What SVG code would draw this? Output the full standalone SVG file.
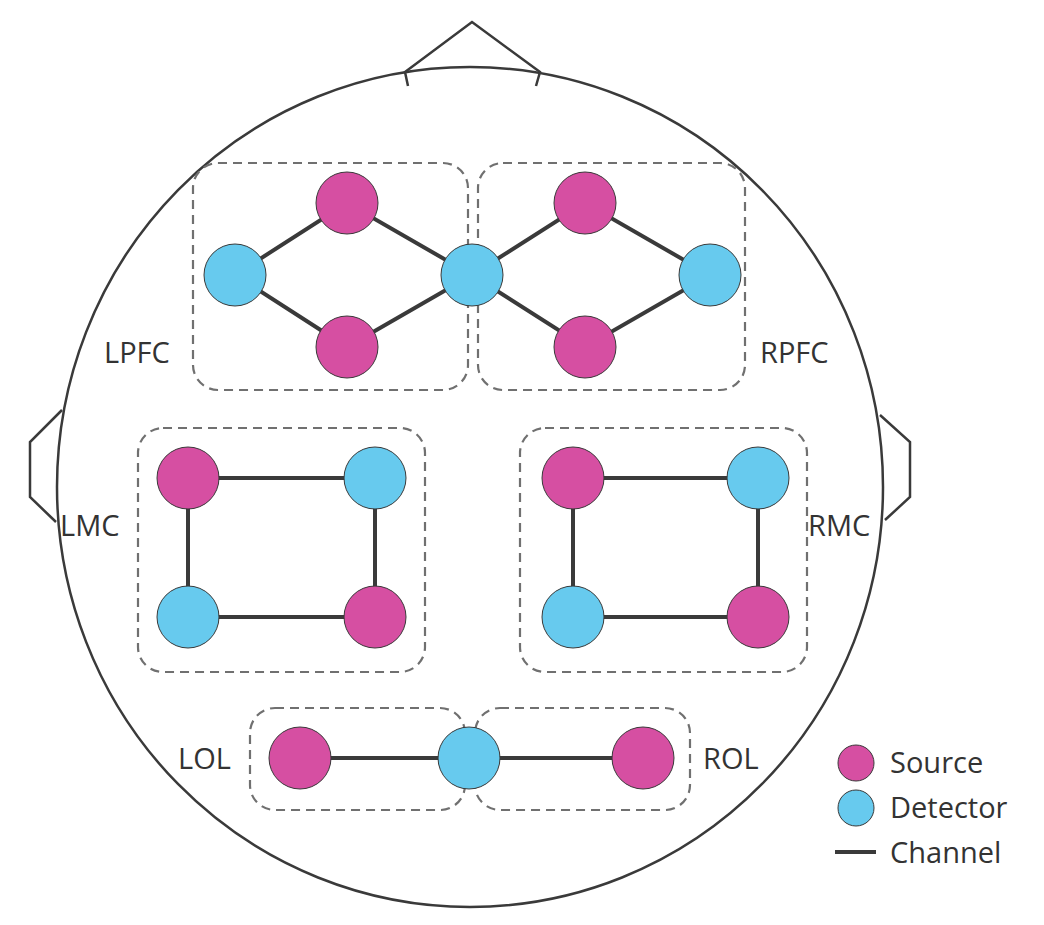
<svg xmlns="http://www.w3.org/2000/svg" width="1044" height="925" viewBox="0 0 1044 925">
<style>
.o{fill:none;stroke:#3a3a3a;stroke-width:2.5}
.b{fill:none;stroke:#707070;stroke-width:2.2;stroke-dasharray:9 6}
.c{stroke:#3a3a3a;stroke-width:4;fill:none}
.s{fill:#D64FA2;stroke:#3a3a3a;stroke-width:1}
.d{fill:#67CAEE;stroke:#3a3a3a;stroke-width:1}
text{font-family:"Open Sans","Liberation Sans",sans-serif;font-size:29px;fill:#333}
</style>
<g id="head">
<ellipse class="o" cx="470" cy="487" rx="413" ry="420"/>
<polyline class="o" points="408,86 405,72 472,22 540,72 536,86"/>
<polyline class="o" points="62,410 30,442 30,497 56,522"/>
<polyline class="o" points="880,415 910,442 910,497 885,520"/>
</g>
<g id="regions">
<rect class="b" x="193" y="163" width="275" height="227" rx="25"/>
<rect class="b" x="478" y="163" width="267" height="227" rx="25"/>
<rect class="b" x="138" y="428" width="287" height="244" rx="25"/>
<rect class="b" x="520" y="428" width="287" height="244" rx="25"/>
<rect class="b" x="250" y="708" width="215" height="102" rx="25"/>
<rect class="b" x="475" y="708" width="215" height="102" rx="25"/>
</g>
<g id="connectors">
<polyline class="c" points="347,347 235,275 347,203 472,275 347,347"/>
<polyline class="c" points="472,275 585,203 710,275 585,347 472,275"/>
<polygon class="c" points="188,478 375,478 375,617 188,617"/>
<polygon class="c" points="573,478 758,478 758,617 573,617"/>
<line class="c" x1="300" y1="758" x2="643" y2="758"/>
<line class="c" x1="835" y1="852" x2="876" y2="852"/>
</g>
<g id="nodes">
<circle class="s" cx="347" cy="203" r="31"/><circle class="s" cx="347" cy="347" r="31"/>
<circle class="d" cx="235" cy="275" r="31"/><circle class="d" cx="472" cy="275" r="31"/>
<circle class="s" cx="585" cy="203" r="31"/><circle class="s" cx="585" cy="347" r="31"/>
<circle class="d" cx="710" cy="275" r="31"/>
<circle class="s" cx="188" cy="478" r="31"/><circle class="d" cx="375" cy="478" r="31"/>
<circle class="d" cx="188" cy="617" r="31"/><circle class="s" cx="375" cy="617" r="31"/>
<circle class="s" cx="573" cy="478" r="31"/><circle class="d" cx="758" cy="478" r="31"/>
<circle class="d" cx="573" cy="617" r="31"/><circle class="s" cx="758" cy="617" r="31"/>
<circle class="s" cx="300" cy="758" r="31"/><circle class="d" cx="469" cy="758" r="31"/>
<circle class="s" cx="643" cy="758" r="31"/>
</g>
<g id="labels">
<text x="104" y="363">LPFC</text>
<text x="760" y="363">RPFC</text>
<text x="60" y="536">LMC</text>
<text x="808" y="536">RMC</text>
<text x="178" y="769">LOL</text>
<text x="703" y="769">ROL</text>
</g>
<g id="legend">
<circle class="s" cx="856" cy="763" r="18" stroke="none"/>
<circle class="d" cx="856" cy="808" r="18" stroke="none"/>
<text x="890" y="773">Source</text>
<text x="890" y="818">Detector</text>
<text x="890" y="863">Channel</text>
</g>
</svg>
